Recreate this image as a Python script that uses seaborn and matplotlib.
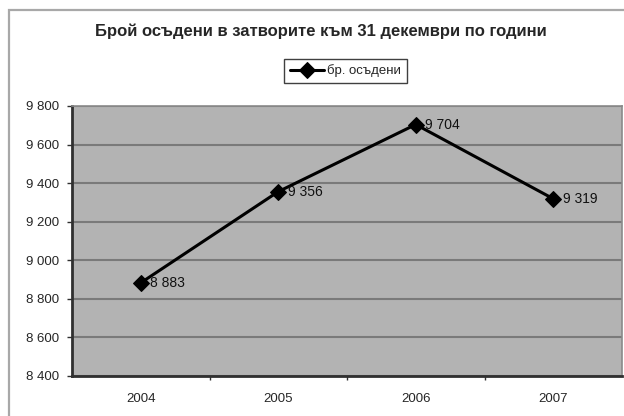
import matplotlib
matplotlib.use("Agg")
import matplotlib.pyplot as plt
import seaborn as sns
import pandas as pd
from matplotlib.patches import Rectangle
from matplotlib.ticker import FixedLocator

years = ["2004", "2005", "2006", "2007"]
convicted = [8883, 9356, 9704, 9319]
value_labels = ["8 883", "9 356", "9 704", "9 319"]
yticks = [8400, 8600, 8800, 9000, 9200, 9400, 9600, 9800]
ytick_labels = ["8 400", "8 600", "8 800", "9 000", "9 200", "9 400", "9 600", "9 800"]
title = "Брой осъдени в затворите към 31 декември по години"
series_name = "бр. осъдени"

sns.set_style("white")
plt.rcParams["font.family"] = ["Liberation Sans", "DejaVu Sans"]

df = pd.DataFrame({"year": years, "value": convicted})
df["pos"] = range(len(years))

fig = plt.figure(figsize=(6.24, 4.16), dpi=100)
fig.patch.set_facecolor("white")
# outer chart frame
fig.patches.append(Rectangle((9 / 624, -0.05), 1.0, 1 - 10 / 416 + 0.05,
                             transform=fig.transFigure, fill=False,
                             edgecolor="#a8a8a8", linewidth=1.6, zorder=0))

ax = fig.add_axes([72 / 624, 1 - 376 / 416, 550 / 624, 270 / 416])
ax.set_facecolor("#b3b3b3")

sns.lineplot(data=df, x="pos", y="value", ax=ax, color="black", linewidth=2.2,
             marker="D", markersize=8, markeredgecolor="black",
             label=series_name, legend=False, zorder=3)

for p, v, lab in zip(df["pos"], convicted, value_labels):
    ax.annotate(lab, (p, v), xytext=(7, 0), textcoords="offset points",
                ha="left", va="center", fontsize=10, color="#111111", zorder=4)

ax.set_xlim(-0.5, len(years) - 0.5)
ax.set_ylim(8400, 9800)
ax.set_yticks(yticks)
ax.set_yticklabels(ytick_labels)
ax.set_xticks(list(df["pos"]))
ax.set_xticklabels(years)
ax.xaxis.set_minor_locator(FixedLocator([0.5, 1.5, 2.5]))
ax.tick_params(axis="x", which="major", length=0, pad=12, labelsize=9.5)
ax.tick_params(axis="x", which="minor", length=3, width=1, color="#303030", direction="out", bottom=True)
ax.tick_params(axis="y", which="major", length=3.5, width=1, color="#303030", direction="out", left=True,
               pad=6, labelsize=9.5)
ax.grid(axis="y", color="#7a7a7a", linewidth=1.5, zorder=1)
ax.set_axisbelow(True)
ax.set_xlabel("")
ax.set_ylabel("")

for s in ["left", "bottom"]:
    ax.spines[s].set_color("#303030")
    ax.spines[s].set_linewidth(2)
for s in ["top", "right"]:
    ax.spines[s].set_color("#8a8a8a")
    ax.spines[s].set_linewidth(1.2)

fig.text(321 / 624, 1 - 31 / 416, title, ha="center", va="center",
         fontsize=12, fontweight="bold")

handles, labels = ax.get_legend_handles_labels()
leg = fig.legend(handles, labels, loc="center", bbox_to_anchor=(345.5 / 624, 1 - 71 / 416),
                 frameon=True, fancybox=False, edgecolor="#404040", facecolor="white",
                 fontsize=9.5, handlelength=2.6, handletextpad=0.2, borderpad=0.45,
                 framealpha=1)
leg.get_frame().set_linewidth(1.0)

fig.savefig("out.png", dpi=100, facecolor="white")
